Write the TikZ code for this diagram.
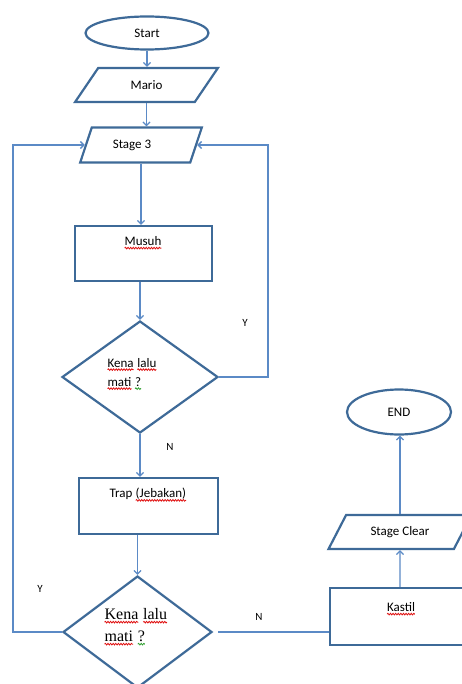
\documentclass[tikz,border=0pt]{standalone}
\usepackage{fontspec}
\usepackage{tikz}
\usetikzlibrary{shapes.geometric}
\usetikzlibrary{arrows.meta}
\usetikzlibrary{positioning}
\usetikzlibrary{calc}
\usetikzlibrary{decorations.pathmorphing}
\usepackage{xcolor}
\newfontfamily\calibrifont{Carlito}
\newfontfamily\timesfont{Liberation Serif}
\definecolor{shapeblue}{HTML}{3E6A98}
\definecolor{lineblue}{HTML}{5B8AC6}
\definecolor{spellred}{HTML}{E01010}
\definecolor{spellgreen}{HTML}{30A030}
% word with a spell-check squiggle under it
\newcommand{\typo}[2][spellred]{\tikz[baseline=(w.base)]{\node[inner sep=0pt, outer sep=0pt] (w) {#2}; \draw[#1, line width=0.8pt, decorate, decoration={snake, amplitude=0.8pt, segment length=2.6pt}] ([yshift=-2.4pt]w.base west) -- ([yshift=-2.4pt]w.base east);}}
\tikzset{x=1pt, y=-1pt, txt/.style={font=\calibrifont\fontsize{13}{19}\selectfont, inner sep=0pt, align=center}}
\tikzstyle{flowline} = [draw=lineblue, line width=1.3pt]
\tikzstyle{ln} = [flowline, -{Straight Barb[length=3.5pt, width=7pt]}]
\tikzstyle{terminal} = [ellipse, draw=shapeblue, line width=2.2pt, fill=white, txt]
\tikzstyle{io} = [trapezium, trapezium left angle=50, trapezium right angle=130, trapezium stretches=true, draw=shapeblue, line width=2.2pt, fill=white, txt]
\tikzstyle{process} = [rectangle, draw=shapeblue, line width=2.2pt, fill=white]
\tikzstyle{decision} = [diamond, draw=shapeblue, line width=2.2pt, fill=white]
\tikzstyle{yn} = [font=\calibrifont\fontsize{11}{13}\selectfont, inner sep=0pt]

\begin{document}
\begin{tikzpicture}
  \path[use as bounding box, fill=white] (0,0) rectangle (462,684);
  \clip (0,0) rectangle (462,684);
  % main column
  \node[terminal, minimum width=123pt, minimum height=33pt] (start) at (147,33) {Start};
  \node[io, minimum width=143pt, minimum height=34pt] (mario) at (146.5,85) {Mario};
  \node[io, trapezium left angle=58, trapezium right angle=122, minimum width=122pt, minimum height=35pt] (stage) at (141,145) {Stage 3\hspace{18pt}};
  \node[process, minimum width=137pt, minimum height=55pt] (musuh) at (143.5,253.5) {};
  \node[txt] (musuhtxt) at (143,243) {\typo{Musuh}};
  \node[decision, minimum width=156pt, minimum height=112pt] (kena1) at (140,377) {};
  \node[txt, align=left, anchor=west] (kena1txt) at (107,374) {\typo{Kena} \typo{lalu}\\\typo{mati} \typo[spellgreen]{?}};
  \node[process, minimum width=139pt, minimum height=56pt] (trap) at (148.5,506) {};
  \node[txt] (traptxt) at (148,495) {Trap \typo{(Jebakan)}};
  \node[decision, minimum width=149pt, minimum height=112pt] (kena2) at (137.5,632) {};
  \node[txt, font=\timesfont\fontsize{16}{22}\selectfont, align=left, anchor=west] (kena2txt) at (104,627) {\typo{Kena} \typo{lalu}\\\typo{mati} \typo[spellgreen]{?}};
  % right column
  \node[process, minimum width=140pt, minimum height=57pt] (kastil) at (400,616.5) {};
  \node[txt] (kastiltxt) at (401,609) {\typo{Kastil}};
  \node[io, trapezium left angle=49.5, trapezium right angle=130.5, minimum width=144pt, minimum height=34pt] (clear) at (400,532) {Stage Clear};
  \node[terminal, minimum width=104pt, minimum height=45pt] (finish) at (399,412) {END};
  % connectors
  \draw[ln] (start.south) -- (start.south |- mario.north);
  \draw[ln] (mario.south) -- (mario.south |- stage.north);
  \draw[ln] (stage.south) -- (stage.south |- musuh.north);
  \draw[ln] (musuh.south -| kena1.north) -- (kena1.north);
  \draw[ln] (kena1.south) -- (kena1.south |- trap.north);
  \draw[ln] (trap.south -| kena2.north) -- (kena2.north);
  \draw[ln] (kena1.east) -- ++(49,0) |- (stage.east);
  \draw[ln] (kena2.west) -- ++(-49,0) |- (stage.west);
  \draw[flowline] ([xshift=5pt]kena2.east) -- (kena2.east -| kastil.west);
  \draw[ln] (kastil.north) -- (clear.south);
  \draw[ln] (clear.north) -- (clear.north |- finish.south);
  % branch labels
  \node[yn] (y1) at (245,323) {Y};
  \node[yn] (n1) at (170,447) {N};
  \node[yn] (y2) at (40,589) {Y};
  \node[yn] (n2) at (259,617) {N};
\end{tikzpicture}
\end{document}
